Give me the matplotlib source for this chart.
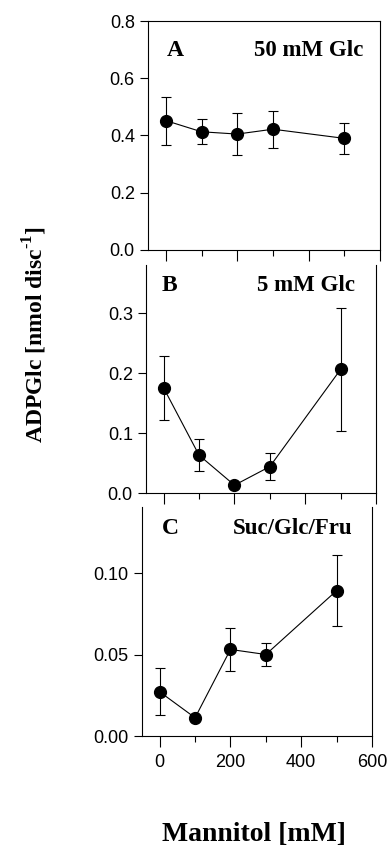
import numpy as np
import matplotlib
matplotlib.use("Agg")
import matplotlib.pyplot as plt
from matplotlib.ticker import MultipleLocator, FormatStrFormatter

# mannitol concentrations [mM]
mannitol = [0, 100, 200, 300, 500]

# panel A: 50 mM Glc
adpglc_a = [0.452, 0.413, 0.405, 0.422, 0.390]
err_a = [0.084, 0.043, 0.074, 0.065, 0.054]

# panel B: 5 mM Glc
adpglc_b = [0.175, 0.063, 0.013, 0.044, 0.206]
err_b = [0.054, 0.027, 0.004, 0.023, 0.103]

# panel C: Suc/Glc/Fru
adpglc_c = [0.0271, 0.0112, 0.0531, 0.0500, 0.0892]
err_c = [0.0145, 0.0015, 0.013, 0.0068, 0.022]

panels = [
    ("A", "50 mM Glc", adpglc_a, err_a, 0.8, [0.0, 0.2, 0.4, 0.6, 0.8], "%.1f"),
    ("B", "5 mM Glc", adpglc_b, err_b, 0.38, [0.0, 0.1, 0.2, 0.3], "%.1f"),
    ("C", "Suc/Glc/Fru", adpglc_c, err_c, 0.1405, [0.00, 0.05, 0.10], "%.2f"),
]

W, H = 389, 846
fig = plt.figure(figsize=(W / 100, H / 100), dpi=100)

serif = "Liberation Serif"
sans = "Liberation Sans"
plt.rcParams["mathtext.fontset"] = "custom"
plt.rcParams["mathtext.rm"] = "Liberation Serif:bold"
plt.rcParams["mathtext.bf"] = "Liberation Serif:bold"

# axes boxes in pixels (scan is slightly tilted): (left, right, top, bottom)
boxes = [(148, 380, 21, 250), (146, 376, 265, 493), (142, 372, 507, 736)]
label_y = [0.872, 0.91, 0.905]
letter_x = [0.082, 0.07, 0.087]
title_x = [0.927, 0.908, 0.913]

for i, (letter, title, y, e, ymax, yt, fmt) in enumerate(panels):
    l, r, top, bot = boxes[i]
    ax = fig.add_axes([l / W, 1 - bot / H, (r - l) / W, (bot - top) / H])
    ax.errorbar(mannitol, y, yerr=e, fmt="o-", color="black", markersize=8.5,
                linewidth=0.8, elinewidth=0.8, capsize=3.3, capthick=0.8)
    ax.set_xlim(-50, 600)
    ax.set_ylim(0, ymax)
    ax.set_yticks(yt)
    ax.yaxis.set_major_formatter(FormatStrFormatter(fmt))
    ax.xaxis.set_major_locator(MultipleLocator(200))
    ax.xaxis.set_minor_locator(MultipleLocator(100))
    ax.tick_params(axis="x", which="major", direction="out", length=8, width=0.8, pad=5)
    ax.tick_params(axis="x", which="minor", direction="out", length=4, width=0.8)
    ax.tick_params(axis="y", direction="out", length=6, width=0.8)
    for lab in ax.get_yticklabels() + ax.get_xticklabels():
        lab.set_fontfamily(sans)
        lab.set_fontsize(13)
    for s in ax.spines.values():
        s.set_linewidth(0.8)
    if i > 0:
        ax.spines["top"].set_visible(False)
    if i < 2:
        ax.tick_params(axis="x", labelbottom=False)
    ax.text(letter_x[i], label_y[i], letter, transform=ax.transAxes, fontfamily=serif,
            fontweight="bold", fontsize=17, va="center", ha="left")
    ax.text(title_x[i], label_y[i], title, transform=ax.transAxes, fontfamily=serif,
            fontweight="bold", fontsize=16.5, va="center", ha="right")

fig.text(254 / W, 1 - 834 / H, "Mannitol [mM]", fontfamily=serif,
         fontweight="bold", fontsize=20, ha="center", va="center")
fig.text(35 / W, 1 - 334 / H, r"ADPGlc [nmol disc$^{\text{-1}}$]", fontfamily=serif,
         fontweight="bold", fontsize=17, ha="center", va="center", rotation=90)

fig.savefig("out.png", dpi=100)
